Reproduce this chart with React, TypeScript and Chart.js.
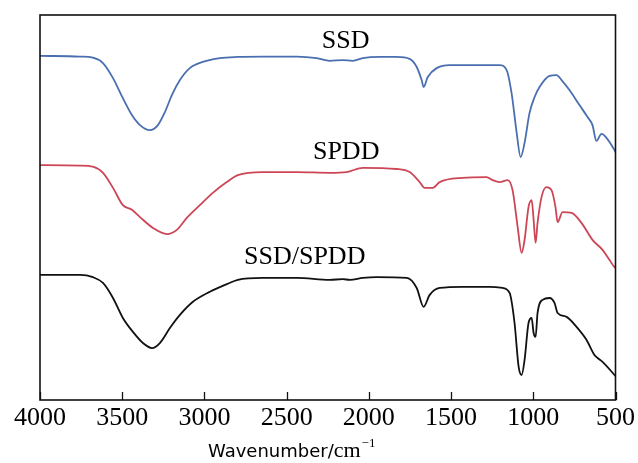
import React, { useEffect, useRef } from "react";
import { Chart, registerables } from "chart.js";

Chart.register(...registerables);

// X tick labels (wavenumber, cm^-1)
const tickValues = [4000, 3500, 3000, 2500, 2000, 1500, 1000, 500];

// SSD (blue)
const ssdX = [4000, 3757, 3678, 3617, 3556, 3496, 3441, 3392, 3332, 3283, 3240, 3198, 3149, 3089, 3010, 2906, 2797, 2645, 2438, 2317, 2238, 2159, 2098, 2037, 1934, 1831, 1752, 1709, 1679, 1667, 1642, 1588, 1509, 1387, 1266, 1205, 1162, 1132, 1101, 1077, 1053, 1023, 992, 962, 901, 858, 828, 780, 719, 670, 640, 616, 585, 555, 506, 500];
const ssdY = [89.4, 89.2, 88.9, 87.5, 83.6, 78.4, 74.0, 71.4, 70.1, 71.4, 74.8, 79.2, 83.1, 86.2, 87.8, 88.8, 89.1, 89.2, 89.2, 88.8, 88.1, 88.3, 88.1, 88.8, 89.1, 89.1, 88.6, 86.5, 83.1, 81.3, 83.9, 86.2, 87.0, 87.0, 87.0, 87.0, 85.7, 79.7, 69.4, 63.1, 66.8, 74.5, 78.7, 81.3, 84.2, 84.4, 83.1, 80.5, 76.6, 73.5, 71.4, 67.3, 69.1, 68.1, 64.9, 64.4];

// SPDD (red)
const spddX = [4000, 3757, 3678, 3617, 3556, 3496, 3441, 3392, 3313, 3228, 3168, 3107, 3028, 2949, 2864, 2797, 2645, 2438, 2238, 2135, 2037, 1831, 1752, 1691, 1661, 1612, 1569, 1430, 1284, 1247, 1205, 1156, 1126, 1095, 1071, 1053, 1029, 1010, 998, 986, 974, 950, 920, 889, 865, 852, 822, 767, 707, 640, 579, 537, 506, 500];
const spddY = [61.0, 60.9, 60.6, 59.0, 55.1, 50.6, 49.4, 47.5, 44.7, 43.1, 44.2, 47.3, 50.6, 53.8, 56.6, 58.4, 59.2, 59.2, 59.0, 59.2, 60.3, 60.0, 59.2, 56.6, 55.1, 55.1, 56.6, 57.7, 57.9, 57.1, 56.6, 57.1, 54.5, 44.9, 38.2, 41.6, 50.1, 51.9, 46.8, 40.8, 46.0, 52.7, 55.3, 54.5, 50.1, 46.2, 48.8, 48.6, 46.0, 41.6, 39.0, 36.4, 34.5, 34.3];

// SSD/SPDD (black)
const mixX = [4000, 3757, 3678, 3617, 3556, 3496, 3435, 3374, 3319, 3271, 3210, 3149, 3070, 2967, 2864, 2797, 2645, 2438, 2238, 2159, 2116, 2037, 1952, 1770, 1709, 1667, 1630, 1569, 1430, 1266, 1187, 1144, 1114, 1089, 1071, 1053, 1029, 1010, 998, 986, 974, 944, 901, 871, 852, 798, 737, 676, 628, 609, 579, 506, 500];
const mixY = [32.5, 32.5, 31.9, 30.4, 26.5, 21.3, 17.7, 14.8, 13.5, 14.8, 18.7, 22.1, 25.5, 28.1, 30.1, 31.2, 31.7, 31.7, 31.2, 31.4, 31.2, 31.7, 31.9, 31.7, 29.1, 24.2, 27.3, 29.1, 29.4, 29.4, 29.1, 27.8, 20.0, 8.6, 6.5, 10.4, 20.0, 21.3, 17.4, 16.4, 22.6, 26.0, 26.5, 25.2, 22.6, 21.6, 19.0, 15.6, 11.7, 10.9, 9.9, 6.5, 6.2];

// Series name annotations (data coordinates)
const seriesNames = ["SSD", "SPDD", "SSD/SPDD"];
const nameX = [2141, 2138, 2390];
const nameY = [93.2, 64.4, 37.1];

const toPts = (xs: number[], ys: number[]) => xs.map((x, i) => ({ x, y: ys[i] }));

const framePlugin = {
  id: "frame",
  afterDraw(chart: any) {
    const { ctx, chartArea: a, scales } = chart;
    const xs = scales.x;
    const ys = scales.y;
    ctx.save();
    ctx.strokeStyle = "#111";
    ctx.lineWidth = 1.6;
    ctx.strokeRect(a.left, a.top, a.right - a.left, a.bottom - a.top);
    ctx.lineWidth = 1.3;
    tickValues.forEach((v) => {
      const x = Math.round(xs.getPixelForValue(v)) + 0.5;
      ctx.beginPath();
      ctx.moveTo(x, a.bottom);
      ctx.lineTo(x, a.bottom - 8);
      ctx.stroke();
    });
    ctx.fillStyle = "#000";
    ctx.font = '26px "Liberation Serif"';
    ctx.textAlign = "center";
    ctx.textBaseline = "middle";
    seriesNames.forEach((n, i) => {
      ctx.fillText(n, xs.getPixelForValue(nameX[i]), ys.getPixelForValue(nameY[i]));
    });
    // axis title: Wavenumber/cm^-1
    ctx.textAlign = "left";
    ctx.textBaseline = "alphabetic";
    let x = 208;
    const base = 457;
    ctx.font = '18px "DejaVu Sans"';
    ctx.fillText("Wavenumber/", x, base);
    x += ctx.measureText("Wavenumber/").width;
    ctx.font = '22px "Liberation Serif"';
    ctx.fillText("cm", x, base);
    x += ctx.measureText("cm").width;
    ctx.font = '13px "Liberation Serif"';
    ctx.fillText("\u22121", x + 1, base - 10);
    ctx.restore();
  },
};

export default function App() {
  const ref = useRef<HTMLCanvasElement>(null);
  useEffect(() => {
    document.body.style.margin = "0";
    const chart = new Chart(ref.current!, {
      type: "line",
      data: {
        datasets: [
          { label: "SSD", data: toPts(ssdX, ssdY), borderColor: "#4a6fb0", borderWidth: 1.8, pointRadius: 0, cubicInterpolationMode: "monotone" },
          { label: "SPDD", data: toPts(spddX, spddY), borderColor: "#cc4656", borderWidth: 1.8, pointRadius: 0, cubicInterpolationMode: "monotone" },
          { label: "SSD/SPDD", data: toPts(mixX, mixY), borderColor: "#111111", borderWidth: 1.8, pointRadius: 0, cubicInterpolationMode: "monotone" },
        ],
      } as any,
      options: {
        animation: false,
        responsive: false,
        layout: { padding: { left: 40, right: 22, top: 15, bottom: 0 } },
        plugins: { legend: { display: false }, tooltip: { enabled: false } },
        scales: {
          x: {
            type: "linear",
            reverse: true,
            min: 500,
            max: 4000,
            grid: { display: false, drawTicks: false },
            border: { display: false },
            afterBuildTicks: (s: any) => {
              s.ticks = tickValues.map((v) => ({ value: v }));
            },
            afterFit: (s: any) => {
              s.height = 63;
            },
            ticks: {
              padding: 3,
              maxRotation: 0,
              autoSkip: false,
              color: "#000",
              font: { family: "Liberation Serif", size: 26 },
              callback: (v: any) => String(v),
            },
          },
          y: { display: false, min: 0, max: 100 },
        },
      },
      plugins: [framePlugin],
    });
    return () => chart.destroy();
  }, []);
  return (
    <canvas
      ref={ref}
      width={638}
      height={463}
      style={{ display: "block", position: "absolute", left: 0, top: 0, width: 638, height: 463 }}
    />
  );
}
